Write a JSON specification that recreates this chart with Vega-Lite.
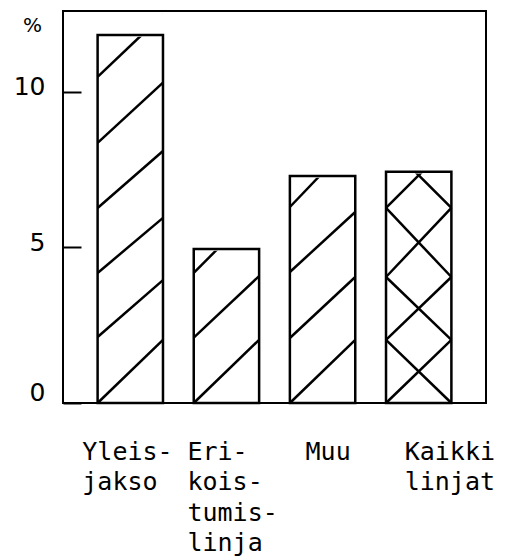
{
  "$schema": "https://vega.github.io/schema/vega-lite/v6.json",
  "width": 423,
  "height": 392,
  "autosize": {"type": "none"},
  "padding": {"left": 63, "top": 11, "right": 24, "bottom": 156},
  "background": "white",
  "config": {
    "view": {"stroke": "black", "strokeWidth": 2},
    "axis": {"grid": false}
  },
  "datasets": {
    "bars": [
      {"cat": "Yleisjakso", "value": 11.83},
      {"cat": "Erikoistumislinja", "value": 4.95},
      {"cat": "Muu", "value": 7.3},
      {"cat": "Kaikki linjat", "value": 7.43}
    ],
    "hatch": [
      {"cat": "Yleisjakso", "yl": 0, "yr": 2.03},
      {"cat": "Yleisjakso", "yl": 2.12, "yr": 3.95},
      {"cat": "Yleisjakso", "yl": 4.18, "yr": 5.95},
      {"cat": "Yleisjakso", "yl": 6.27, "yr": 8.1},
      {"cat": "Yleisjakso", "yl": 8.36, "yr": 10.3},
      {"cat": "Yleisjakso", "yl": 10.48, "yr": 12.48},
      {"cat": "Erikoistumislinja", "yl": 0, "yr": 2.03},
      {"cat": "Erikoistumislinja", "yl": 2.1, "yr": 4.08},
      {"cat": "Erikoistumislinja", "yl": 4.18, "yr": 6.3},
      {"cat": "Muu", "yl": 0, "yr": 2.03},
      {"cat": "Muu", "yl": 2.09, "yr": 4.05},
      {"cat": "Muu", "yl": 4.21, "yr": 6.14},
      {"cat": "Muu", "yl": 6.3, "yr": 8.5},
      {"cat": "Kaikki linjat", "yl": 0, "yr": 2.03},
      {"cat": "Kaikki linjat", "yl": 2.03, "yr": 4.05},
      {"cat": "Kaikki linjat", "yl": 4.05, "yr": 6.27},
      {"cat": "Kaikki linjat", "yl": 6.27, "yr": 8.37},
      {"cat": "Kaikki linjat", "yl": 2.03, "yr": 0},
      {"cat": "Kaikki linjat", "yl": 4.05, "yr": 2.03},
      {"cat": "Kaikki linjat", "yl": 6.27, "yr": 4.05},
      {"cat": "Kaikki linjat", "yl": 8.37, "yr": 6.27}
    ]
  },
  "layer": [
    {
      "data": {"name": "hatch"},
      "mark": {"type": "rule", "stroke": "black", "strokeWidth": 2.5, "strokeCap": "butt"},
      "encoding": {
        "x": {"field": "cat", "type": "nominal", "bandPosition": 0,
              "sort": ["Yleisjakso", "Erikoistumislinja", "Muu", "Kaikki linjat"],
              "scale": {"type": "band", "paddingInner": 0.32, "paddingOuter": 0.36}},
        "x2": {"field": "cat", "bandPosition": 1},
        "y": {"field": "yl", "type": "quantitative", "title": "%", "scale": {"domain": [0, 12.6], "nice": false}},
        "y2": {"field": "yr"}
      }
    },
    {
      "data": {"name": "bars"},
      "mark": {"type": "bar", "fill": "white", "stroke": "white", "strokeWidth": 3.5},
      "encoding": {
        "x": {"field": "cat", "type": "nominal",
              "sort": ["Yleisjakso", "Erikoistumislinja", "Muu", "Kaikki linjat"],
              "scale": {"type": "band", "paddingInner": 0.32, "paddingOuter": 0.36}},
        "y": {"field": "value", "type": "quantitative", "title": "%"},
        "y2": {"datum": 12.45}
      }
    },
    {
      "data": {"name": "bars"},
      "mark": {"type": "bar", "fill": "white", "fillOpacity": 0, "stroke": "black", "strokeWidth": 2.5},
      "encoding": {
        "x": {"field": "cat", "type": "nominal",
              "sort": ["Yleisjakso", "Erikoistumislinja", "Muu", "Kaikki linjat"],
              "scale": {"type": "band", "paddingInner": 0.32, "paddingOuter": 0.36},
              "axis": {
                "title": null, "domain": false, "ticks": false, "labelAngle": 0,
                "labelAlign": "left", "labelBaseline": "top",
                "labelFont": "DejaVu Sans Mono", "labelFontSize": 25, "labelColor": "black",
                "labelLineHeight": 30.5, "labelPadding": 36,
                "labelExpr": "datum.value == 'Yleisjakso' ? ['Yleis-','jakso'] : datum.value == 'Erikoistumislinja' ? ['Eri-','kois-','tumis-','linja'] : datum.value == 'Muu' ? 'Muu' : ['Kaikki','linjat']",
                "labelOffset": {
                  "condition": [
                    {"test": "datum.value == 'Yleisjakso'", "value": -48},
                    {"test": "datum.value == 'Erikoistumislinja'", "value": -39},
                    {"test": "datum.value == 'Muu'", "value": -17}
                  ],
                  "value": -14
                }
              }},
        "y": {"field": "value", "type": "quantitative", "title": "%",
              "axis": {
                "values": [0, 5, 10], "domain": false, "tickSize": -18, "tickWidth": 2, "tickColor": "black",
                "labelFont": "DejaVu Sans", "labelFontSize": 25, "labelColor": "black", "labelPadding": 36,
                "labelBaseline": "middle",
                "labelOffset": {"condition": {"test": "datum.value == 0", "value": -11}, "value": -5},
                "title": "%", "titleAngle": 0, "titleX": -31, "titleY": 14, "titleAlign": "center",
                "titleBaseline": "middle", "titleFont": "DejaVu Sans", "titleFontSize": 20,
                "titleFontWeight": "normal", "titleColor": "black"
              }},
        "y2": {"datum": 0}
      }
    }
  ]
}
